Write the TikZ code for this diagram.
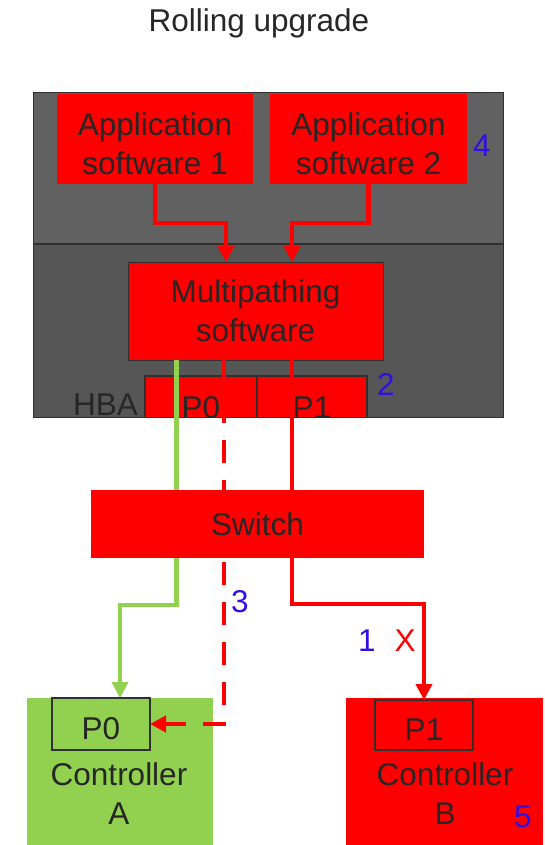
\documentclass[tikz,border=0pt]{standalone}
\usepackage{fontspec}
\setmainfont{Liberation Sans}
\usetikzlibrary{arrows.meta}
\definecolor{myred}{HTML}{FF0000}
\definecolor{mygreen}{HTML}{92D050}
\definecolor{grayup}{HTML}{616161}
\definecolor{graylow}{HTML}{565656}
\definecolor{txt}{HTML}{262626}
\definecolor{numblue}{HTML}{3010E0}
\definecolor{edge}{HTML}{303030}
\begin{document}
\begin{tikzpicture}[x=1pt,y=-1pt,
  every node/.style={font=\fontsize{31.5}{39}\selectfont, text=txt, inner sep=0pt, outer sep=0pt},
  redbox/.style={fill=myred, align=center},
  portbox/.style={draw=edge, line width=1.3pt},
  num/.style={text=numblue, anchor=base},
  redline/.style={draw=myred, line width=4.8pt},
  greenline/.style={draw=mygreen, line width=4.8pt},
  tip/.style={-{Triangle[length=16pt,width=16pt]}},
  dashline/.style={redline, dash pattern=on 23pt off 17pt}
]
\useasboundingbox (0,0) rectangle (544,845);

% title
\node[anchor=base] (title) at (259,32) {Rolling upgrade};

% server box
\node[fill=grayup, minimum width=470pt, minimum height=151pt] (upper) at (268,168.5) {};
\node[fill=graylow, minimum width=470pt, minimum height=173pt] (lower) at (268,330.5) {};
\draw[edge, line width=1pt] (upper.north west) rectangle (lower.south east);
\draw[edge, line width=1.5pt] (upper.south west) -- (upper.south east);

% application boxes
\node[redbox, minimum width=196pt, minimum height=90pt,
  label={[name=app1text, align=center, yshift=-5pt]center:{Application\\software 1}}] (app1) at (155,139) {};
\node[redbox, minimum width=197pt, minimum height=90pt,
  label={[name=app2text, align=center, yshift=-5pt]center:{Application\\software 2}}] (app2) at (368.5,139) {};
\node[num] (n4) at (482,157) {4};

% multipathing
\node[redbox, draw=edge, line width=1pt, minimum width=255pt, minimum height=98pt] (mp) at (255.5,311) {Multipathing\\software};

% HBA
\begin{scope}
\clip (upper.north west) rectangle (lower.south east);
\node[fill=myred, portbox, anchor=base, text height=42pt, text depth=0pt, minimum width=112pt] (hba0) at (201,418) {P0};
\node[fill=myred, portbox, anchor=base, text height=42pt, text depth=0pt, minimum width=110pt] (hba1) at (312,418) {P1};
\end{scope}
\node[anchor=base east] (hbalabel) at (138,415) {HBA};
\node[num] (n2) at (386,395) {2};

% switch
\node[fill=myred, minimum width=333pt, minimum height=68pt] (switch) at (257.5,524) {Switch};

% controllers
\node[fill=mygreen, minimum width=186pt, minimum height=147pt] (ctrlA) at (120,771.5) {};
\node[fill=myred, minimum width=197pt, minimum height=147pt] (ctrlB) at (444.5,771.5) {};
\node[portbox, text height=30pt, text depth=0pt, minimum width=98pt, minimum height=52pt] (p0) at (101,724) {P0};
\node[portbox, text height=30pt, text depth=0pt, minimum width=98pt, minimum height=50pt] (p1) at (424,725) {P1};
\node[align=center] (ctrlAtext) at (119,794) {Controller\\A};
\node[align=center] (ctrlBtext) at (445,794) {Controller\\B};
\node[num] (n5) at (523,827) {5};

% labels
\node[num] (n3) at (240,612) {3};
\node[num] (n1) at (367,651) {1};
\node[anchor=base, text=myred] (xmark) at (405,651) {X};

% connectors: applications to multipathing
\draw[redline, tip] (app1.south) -- ++(0,39) -| ([xshift=-29.5pt]mp.north);
\draw[redline, tip] (app2.south) -- ++(0,39) -| ([xshift=36.5pt]mp.north);

% multipathing to switch
\draw[greenline] ([xshift=-79pt]mp.south) -- ([xshift=-81pt]switch.north);
\draw[redline] ([xshift=36.5pt]mp.south) -- ([xshift=34.5pt]switch.north);
\draw[redline] ([xshift=-31.5pt]mp.south) -- ++(0,63) coordinate (dstart);
\draw[dashline, dash phase=23pt] (dstart) -- ([xshift=-33.5pt]switch.north);

% switch to controllers
\draw[greenline, tip] ([xshift=-81pt]switch.south) -- ++(0,47) -| (ctrlA.north);
\draw[redline, tip] ([xshift=34.5pt]switch.south) -- ++(0,46) -| (p1.north);
\draw[dashline, dash phase=36pt, tip] ([xshift=-33.5pt]switch.south) |- (p0.east);
\end{tikzpicture}
\end{document}
